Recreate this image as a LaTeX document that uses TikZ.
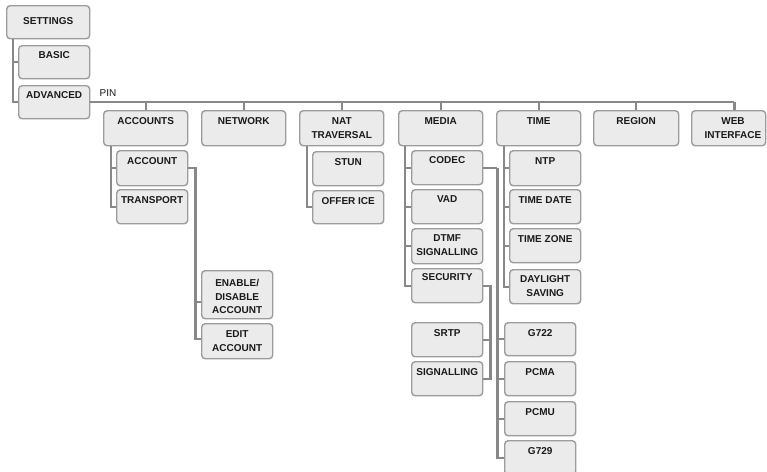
\documentclass[tikz,border=0pt]{standalone}
\usepackage{fontspec}
\setmainfont{Liberation Sans}
\usetikzlibrary{calc}
\definecolor{boxfill}{HTML}{EBEBEB}
\definecolor{boxline}{HTML}{9C9C9C}
\definecolor{connc}{HTML}{888888}
\definecolor{txtc}{HTML}{1A1A1A}
% name, x, y, w, h, text, text offset
\newcommand\bx[7]{%
  \node[box, minimum width=#4pt, minimum height=#5pt, anchor=north west] (#1) at (#2,#3) {};
  \node[txt, anchor=north] (#1-t) at ($(#1.north)+(0,#7)$) {#6};}
\begin{document}
\begin{tikzpicture}[x=1pt,y=-1pt,
  box/.style={draw=boxline, fill=boxfill, line width=1.4pt, rounded corners=3.5pt, inner sep=0pt},
  txt/.style={inner sep=0pt, align=center, text=txtc, font=\fontsize{10}{13.6}\selectfont\bfseries},
  conn/.style={draw=connc, line width=2.2pt},
  pinlbl/.style={inner sep=0pt, text=txtc, font=\fontsize{10}{12}\selectfont}]
\useasboundingbox[fill=white] (0,0) rectangle (767,471);

% top
\bx{settings}{6}{5}{83}{33}{SETTINGS}{12.1}
\bx{basic}{18}{45}{71}{33}{BASIC}{6.4}
\bx{advanced}{18}{85}{71}{33}{ADVANCED}{6.4}

% level 1
\bx{accounts}{103}{110}{84}{35}{ACCOUNTS}{7.4}
\bx{network}{201}{110}{84}{35}{NETWORK}{7.4}
\bx{nat}{299}{110}{84}{35}{NAT\\TRAVERSAL}{7.4}
\bx{media}{398}{110}{84}{35}{MEDIA}{7.4}
\bx{time}{496}{110}{84}{35}{TIME}{7.4}
\bx{region}{593}{110}{85}{35}{REGION}{7.4}
\node[box, minimum width=74pt, minimum height=35pt, anchor=north west] (web) at (691,110) {};
\node[txt, anchor=north] (web-t) at (733,117.4) {WEB\\INTERFACE};

% level 2
\bx{account}{116}{150}{71}{35}{ACCOUNT}{7.2}
\bx{transport}{116}{189}{71}{34}{TRANSPORT}{7.2}
\bx{stun}{312}{151}{71}{34}{STUN}{7.2}
\bx{offerice}{312}{190}{71}{33}{OFFER ICE}{7.2}
\bx{codec}{411}{150}{71}{34}{CODEC}{6.8}
\bx{vad}{411}{189}{71}{34}{VAD}{6.8}
\bx{dtmf}{411}{228}{71}{35}{DTMF\\SIGNALLING}{6.6}
\bx{security}{411}{268}{71}{34}{SECURITY}{5.8}
\bx{ntp}{509}{150}{71}{35}{NTP}{7.2}
\bx{timedate}{509}{189}{71}{34}{TIME DATE}{7.2}
\bx{timezone}{509}{228}{71}{34}{TIME ZONE}{7.2}
\bx{daylight}{509}{269}{71}{34}{DAYLIGHT\\SAVING}{6.4}

% level 3
\bx{enable}{201}{270}{71}{48}{ENABLE/\\DISABLE\\ACCOUNT}{9.0}
\bx{edit}{201}{323}{71}{35}{EDIT\\ACCOUNT}{7.4}
\bx{srtp}{411}{322}{71}{34}{SRTP}{7.4}
\bx{signalling}{411}{361}{71}{34}{SIGNALLING}{7.4}
\bx{g722}{504}{322}{71}{33}{G722}{7.4}
\bx{pcma}{504}{361}{71}{34}{PCMA}{7.4}
\bx{pcmu}{504}{401}{71}{34}{PCMU}{7.4}
\bx{g729}{504}{440}{71}{34}{G729}{7.4}

% connectors: settings
\coordinate (st) at ($(settings.south west)+(7,0)$);
\draw[conn] (st) |- (basic.west);
\draw[conn] (st) |- (advanced.west);

% main bus
\coordinate (busend) at ($(advanced.east)+(644,0)$);
\draw[conn] (advanced.east) -- (busend);
\node[pinlbl, anchor=base west] (pin) at ($(advanced.east)+(9,-5.5)$) {PIN};
\foreach \n in {accounts,network,nat,media,time,region}
  \draw[conn] (\n.north) -- (\n.north |- advanced.east);
\draw[conn] (busend) -- (busend |- web.north);

% accounts
\coordinate (ac) at ($(accounts.south west)+(8,0)$);
\draw[conn] (ac) |- (account.west);
\draw[conn] (ac) |- (transport.west);
% nat
\coordinate (nt) at ($(nat.south west)+(8,0)$);
\draw[conn] (nt) |- (offerice.west);
% media
\coordinate (md) at ($(media.south west)+(7,0)$);
\foreach \n in {codec,vad,dtmf,security}
  \draw[conn] (md) |- (\n.west);
% time
\coordinate (tm) at ($(time.south west)+(8,0)$);
\foreach \n in {ntp,timedate,timezone,daylight}
  \draw[conn] (tm) |- (\n.west);

% account -> enable/edit
\coordinate (ae) at ($(account.east)+(7,0)$);
\draw[conn] (account.east) -- (ae) |- ([yshift=-7pt]enable.west);
\draw[conn] (ae) |- ([yshift=2.5pt]edit.west);
% security -> srtp/signalling
\coordinate (se) at ($(security.east)+(7,0)$);
\draw[conn] (security.east) -- (se) |- (signalling.east);
\draw[conn] (se) |- (srtp.east);
% codec -> g722...
\coordinate (ce) at ($(codec.east)+(14,0)$);
\draw[conn] (codec.east) -- (ce);
\foreach \n in {g722,pcma,pcmu,g729}
  \draw[conn] (ce) |- (\n.west);
\end{tikzpicture}
\end{document}
